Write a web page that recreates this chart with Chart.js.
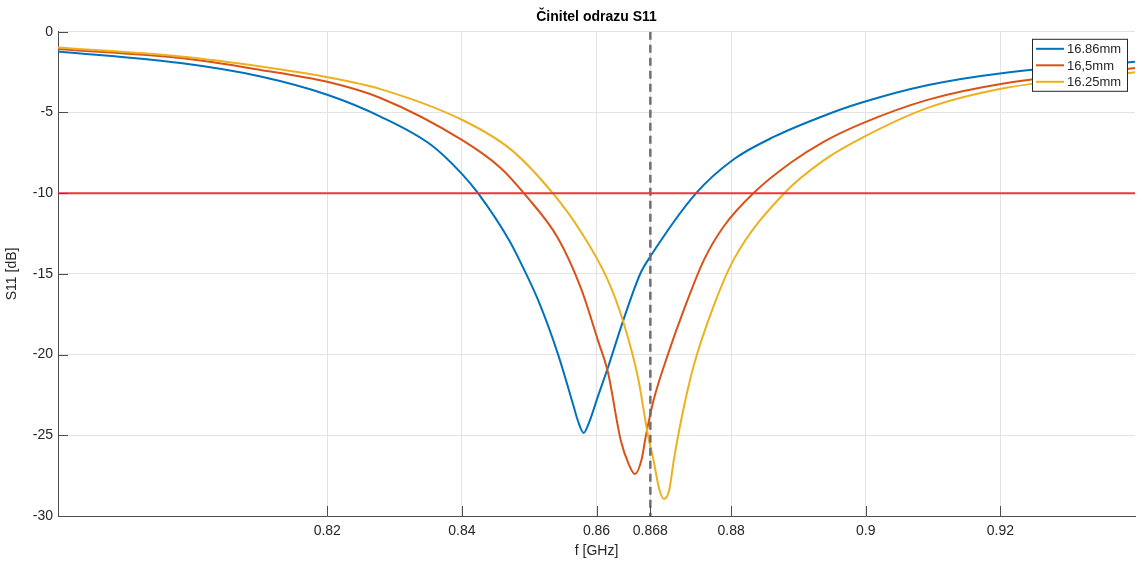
<!DOCTYPE html>
<html>
<head>
<meta charset="utf-8">
<script src="https://cdn.jsdelivr.net/npm/chart.js@4.4.1/dist/chart.umd.min.js"></script>
<style>
  html, body { margin: 0; padding: 0; background: #fff; }
  #s11 { display: block; }
</style>
</head>
<body>
<canvas id="s11" width="1137" height="562"></canvas>
<script>
// values (f in GHz, S11 in dB)
const seriesLabels = ["16.86mm", "16,5mm", "16.25mm"];
const seriesColors = ["#0072BD", "#D95319", "#EDB120"];

const f1686 = [0.78, 0.7982, 0.8101, 0.82, 0.8279, 0.8354, 0.84, 0.8424, 0.8470, 0.8485, 0.8513, 0.8543, 0.8566, 0.8572, 0.8581, 0.8589, 0.8602, 0.8617, 0.8640, 0.8666, 0.8678, 0.8748, 0.8804, 0.8864, 0.8938, 0.8993, 0.9093, 0.9205, 0.94];
const s1686 = [-1.22, -1.94, -2.77, -3.9, -5.25, -7.0, -8.8, -10, -12.9, -14.1, -16.6, -20, -23.2, -24.05, -24.85, -24.2, -22.6, -20.8, -17.85, -14.9, -14.05, -10, -7.9, -6.5, -5.2, -4.4, -3.3, -2.55, -1.85];

const f165 = [0.78, 0.7982, 0.8101, 0.82, 0.8279, 0.84, 0.8458, 0.8492, 0.8543, 0.8577, 0.8602, 0.8617, 0.8636, 0.8648, 0.8657, 0.8667, 0.8673, 0.8685, 0.8706, 0.8730, 0.8760, 0.8790, 0.8833, 0.8889, 0.8938, 0.8993, 0.9093, 0.9205, 0.94];
const s165 = [-1.07, -1.63, -2.36, -3.1, -4.1, -6.7, -8.45, -10, -12.8, -15.9, -19.1, -21.1, -25.3, -26.8, -27.4, -26.5, -25.1, -22.8, -20.0, -17.2, -14.1, -12.0, -10, -8.1, -6.8, -5.7, -4.2, -3.2, -2.25];

const f1625 = [0.78, 0.7982, 0.8101, 0.82, 0.8279, 0.84, 0.8473, 0.8535, 0.8577, 0.8617, 0.8640, 0.8662, 0.8676, 0.8685, 0.8693, 0.8700, 0.8708, 0.8715, 0.8729, 0.8745, 0.8773, 0.8804, 0.8879, 0.8938, 0.8993, 0.9093, 0.9205, 0.94];
const s1625 = [-0.97, -1.53, -2.15, -2.81, -3.55, -5.45, -7.3, -10, -12.4, -15.4, -18, -21.5, -24.9, -26.6, -28.3, -28.95, -28.4, -26.5, -23.4, -20.6, -17.1, -14.1, -10, -7.95, -6.6, -4.7, -3.5, -2.5];

const xTicks = [0.82, 0.84, 0.86, 0.868, 0.88, 0.9, 0.92];
const fMin = 0.78, fMax = 0.94;
const dbMin = -30, dbMax = 0, dbStep = 5;
const thresholdDb = -10;
const markerGHz = 0.868;

const zip = (xs, ys) => xs.map((x, i) => ({ x: x, y: ys[i] }));
const font = "'Liberation Sans', Arial, Helvetica, sans-serif";
const textColor = "#262626";

const curve = (idx, xs, ys, order) => ({
    label: seriesLabels[idx],
    data: zip(xs, ys),
    borderColor: seriesColors[idx],
    borderWidth: 2,
    pointRadius: 0,
    cubicInterpolationMode: "monotone",
    fill: false,
    order: order,
    inLegend: true
});

// MATLAB style: ticks pointing into the axes, legend box in top-right corner
const matlabBits = {
    id: "matlabBits",
    afterDraw(chart) {
        const ctx = chart.ctx;
        const xs = chart.scales.x, ys = chart.scales.y;
        const area = chart.chartArea;
        ctx.save();
        ctx.strokeStyle = "#4d4d4d";
        ctx.lineWidth = 1;
        ctx.beginPath();
        xs.ticks.forEach(t => {
            const px = Math.round(xs.getPixelForValue(t.value)) + 0.5;
            ctx.moveTo(px, area.bottom);
            ctx.lineTo(px, area.bottom - 10);
        });
        ys.ticks.forEach(t => {
            const py = Math.round(ys.getPixelForValue(t.value)) + 0.5;
            ctx.moveTo(area.left, py);
            ctx.lineTo(area.left + 10, py);
        });
        ctx.stroke();

        // legend
        const items = chart.data.datasets.filter(d => d.inLegend);
        const bx = area.right - 103, by = area.top + 7, bw = 95, bh = 52;
        ctx.fillStyle = "#fff";
        ctx.fillRect(bx, by, bw, bh);
        ctx.strokeStyle = "#262626";
        ctx.strokeRect(bx + 0.5, by + 0.5, bw, bh);
        ctx.font = "13px " + font;
        ctx.textBaseline = "middle";
        items.forEach((d, i) => {
            const ly = by + 10 + i * 16.5;
            ctx.strokeStyle = d.borderColor;
            ctx.lineWidth = 2;
            ctx.beginPath();
            ctx.moveTo(bx + 4, ly);
            ctx.lineTo(bx + 32, ly);
            ctx.stroke();
            ctx.fillStyle = textColor;
            ctx.fillText(d.label, bx + 35, ly + 1);
        });
        ctx.restore();
    }
};

new Chart(document.getElementById("s11"), {
    type: "line",
    data: {
        datasets: [
            curve(0, f1686, s1686, 3),
            curve(1, f165, s165, 2),
            curve(2, f1625, s1625, 1),
            {
                label: "limit",
                data: [{ x: fMin, y: thresholdDb }, { x: fMax, y: thresholdDb }],
                borderColor: "rgb(242,52,52)",
                borderWidth: 2,
                pointRadius: 0,
                order: 0
            },
            {
                label: "marker",
                data: [{ x: markerGHz, y: dbMax }, { x: markerGHz, y: dbMin }],
                borderColor: "#6f6f6f",
                borderWidth: 2.5,
                borderDash: [8, 5],
                pointRadius: 0,
                order: 0
            }
        ]
    },
    options: {
        responsive: false,
        animation: false,
        layout: { padding: { right: 2 } },
        plugins: {
            legend: { display: false },
            tooltip: { enabled: false },
            title: {
                display: true,
                text: "Činitel odrazu S11",
                fullSize: false,
                color: "#000",
                font: { family: font, size: 14, weight: "bold" },
                padding: { top: 9, bottom: 6 }
            }
        },
        scales: {
            x: {
                type: "linear",
                min: fMin,
                max: fMax,
                afterBuildTicks: scale => {
                    scale.ticks = xTicks.map(v => ({ value: v }));
                },
                afterFit: scale => { scale.height = 46; },
                ticks: {
                    color: textColor,
                    font: { family: font, size: 14 },
                    padding: 7,
                    maxRotation: 0,
                    autoSkip: false,
                    callback: v => String(Math.round(v * 1000) / 1000)
                },
                grid: { color: "#e3e3e3", drawTicks: false },
                border: { color: "#4d4d4d", width: 1 },
                title: {
                    display: true,
                    text: "f [GHz]",
                    color: textColor,
                    font: { family: font, size: 14 },
                    padding: { top: 0, bottom: 2 }
                }
            },
            y: {
                min: dbMin,
                max: dbMax,
                afterFit: scale => { scale.width = 58; },
                ticks: {
                    stepSize: dbStep,
                    color: textColor,
                    font: { family: font, size: 14 },
                    padding: 5
                },
                grid: { color: "#e3e3e3", drawTicks: false },
                border: { color: "#4d4d4d", width: 1 },
                title: {
                    display: true,
                    text: "S11 [dB]",
                    color: textColor,
                    font: { family: font, size: 14 },
                    padding: { top: 4, bottom: 0 }
                }
            }
        }
    },
    plugins: [matlabBits]
});
</script>
</body>
</html>
